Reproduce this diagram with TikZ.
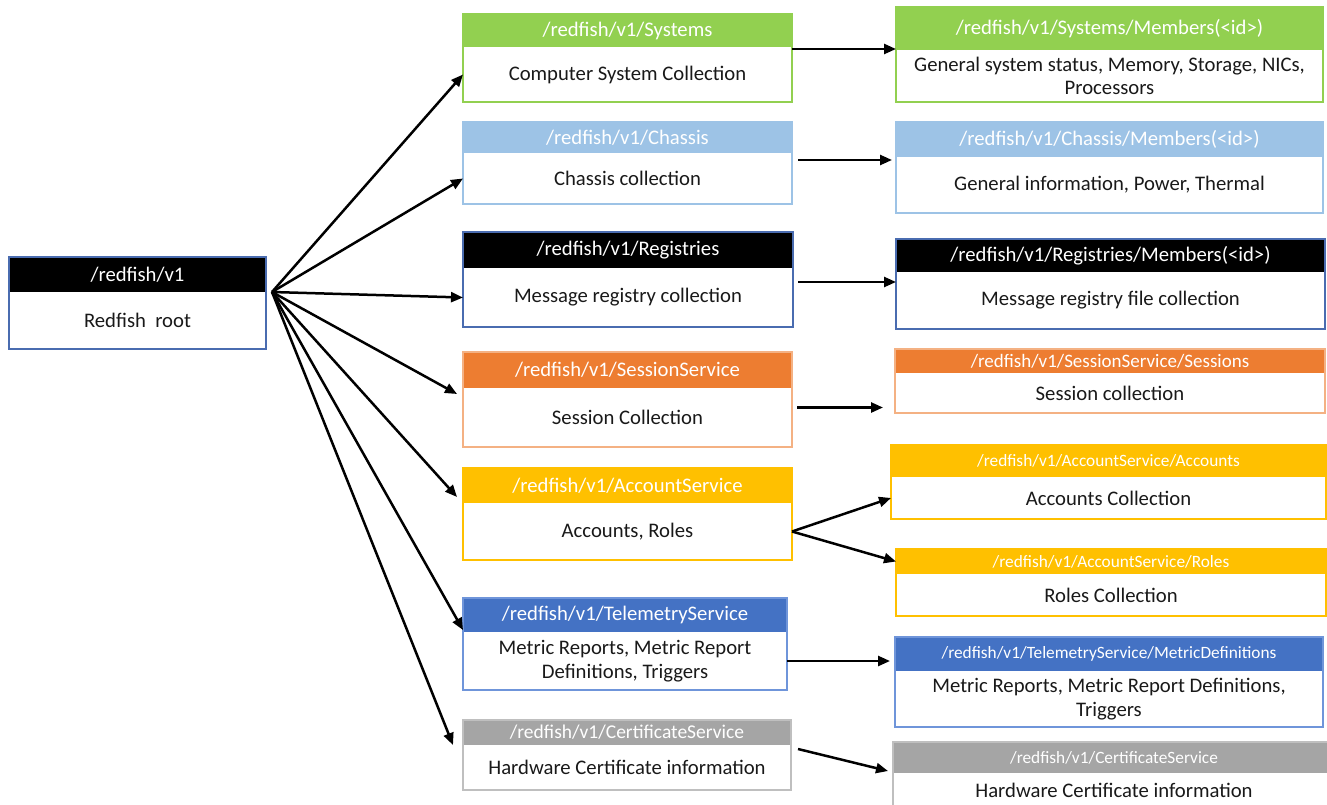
\documentclass[tikz,border=0pt]{standalone}
\usepackage{fontspec}
\setmainfont{Carlito}
\usetikzlibrary{arrows.meta,calc}
\definecolor{sysF}{HTML}{92D050}\definecolor{sysL}{HTML}{92D050}
\definecolor{chF}{HTML}{9DC3E6}\definecolor{chL}{HTML}{9DC3E6}
\definecolor{regF}{HTML}{000000}\definecolor{regL}{HTML}{4A6CB0}
\definecolor{sesF}{HTML}{ED7D31}\definecolor{sesL}{HTML}{F4B183}
\definecolor{accF}{HTML}{FFC000}\definecolor{accL}{HTML}{FFC000}
\definecolor{telF}{HTML}{4472C4}\definecolor{telL}{HTML}{6F95DA}
\definecolor{certF}{HTML}{A5A5A5}\definecolor{certL}{HTML}{BFBFBF}
\tikzset{
  boxframe/.style={draw, line width=1.4pt, inner sep=0pt, outer sep=0pt, anchor=north west},
  hdr/.style={inner sep=0pt, outer sep=0pt, anchor=north west, text=white, font=\fontsize{20.7}{23}\selectfont},
  bdy/.style={inner sep=0pt, outer sep=0pt, anchor=north west, align=center, text=black!90, font=\fontsize{20.7}{23.5}\selectfont},
  arr/.style={-{Triangle[length=12pt,width=10pt]}, line width=2.5pt, black},
}
\newcommand\rfbox[9]{%
  \pgfmathsetmacro\rfw{#3-#2}\pgfmathsetmacro\rfh{#6-#4}%
  \pgfmathsetmacro\rfhh{#5-#4}\pgfmathsetmacro\rfbh{#6-#5}%
  \node[hdr, fill=#7F, minimum width=\rfw pt, minimum height=\rfhh pt] (#1-h) at (#2,#4) {#8};
  \node[bdy, minimum width=\rfw pt, minimum height=\rfbh pt] (#1-b) at (#2,#5) {#9};
  \node[boxframe, draw=#7L, minimum width=\rfw pt, minimum height=\rfh pt] (#1) at (#2,#4) {};
}
\begin{document}
\begin{tikzpicture}[x=1pt,y=-1pt]
\useasboundingbox (0,0) rectangle (1327,805);
\clip (0,0) rectangle (1327,805);
% root
\rfbox{root}{9}{266}{257}{292}{349}{reg}{/redfish/v1}{Redfish~~root}
% middle column
\rfbox{sys}{463}{792}{14}{47}{102}{sys}{/redfish/v1/Systems}{Computer System Collection}
\rfbox{ch}{463}{792}{122}{153}{204}{ch}{/redfish/v1/Chassis}{Chassis collection}
\rfbox{reg}{463}{793}{232}{268}{327}{reg}{/redfish/v1/Registries}{Message registry collection}
\rfbox{ses}{463}{792}{352}{388}{447}{ses}{/redfish/v1/SessionService}{Session Collection}
\rfbox{acc}{463}{792}{468}{503}{560}{acc}{/redfish/v1/AccountService}{Accounts, Roles}
\rfbox{tel}{463}{787}{598}{632}{690}{tel}{/redfish/v1/TelemetryService}{Metric Reports, Metric Report\\Definitions, Triggers}
\rfbox{cert}{463}{791}{720}{745}{790}{cert}{{\fontsize{19.5}{21}\selectfont/redfish/v1/CertificateService}}{Hardware Certificate information}
% right column
\rfbox{sysm}{896}{1323}{7}{50}{102}{sys}{/redfish/v1/Systems/Members(<id>)}{General system status, Memory, Storage, NICs,\\Processors}
\rfbox{chm}{896}{1323}{122}{157}{213}{ch}{/redfish/v1/Chassis/Members(<id>)}{General information, Power, Thermal}
\rfbox{regm}{896}{1325}{239}{272}{329}{reg}{/redfish/v1/Registries/Members(<id>)}{Message registry file collection}
\rfbox{sessm}{895}{1325}{349}{373}{413}{ses}{{\fontsize{19}{20}\selectfont/redfish/v1/SessionService/Sessions}}{Session collection}
\rfbox{accm}{891}{1326}{445}{477}{519}{acc}{{\fontsize{17.3}{18}\selectfont/redfish/v1/AccountService/Accounts}}{Accounts Collection}
\rfbox{rolm}{896}{1326}{549}{574}{616}{acc}{{\fontsize{17.3}{18}\selectfont/redfish/v1/AccountService/Roles}}{Roles Collection}
\rfbox{metm}{895}{1323}{637}{671}{727}{tel}{{\fontsize{17.3}{18}\selectfont/redfish/v1/TelemetryService/MetricDefinitions}}{Metric Reports, Metric Report Definitions,\\Triggers}
\rfbox{certm}{893}{1335}{742}{773}{807}{cert}{{\fontsize{17.3}{18}\selectfont/redfish/v1/CertificateService}}{Hardware Certificate information}
% hub arrows
\coordinate (hub) at ([shift={(6pt,11pt)}]root.east);
\draw[arr] (hub) -- (sys-b.west);
\draw[arr] (hub) -- (ch-b.west);
\draw[arr] (hub) -- (reg-b.west);
\draw[arr] (hub) -- ([shift={(-6pt,-6pt)}]ses-b.north west);
\draw[arr] (hub) -- ([shift={(-6pt,6pt)}]acc-h.south west);
\draw[arr] (hub) -- ([shift={(0pt,2pt)}]tel-h.south west);
\draw[arr] (hub) -- ([shift={(-10pt,0pt)}]cert-h.south west);
% second level
\coordinate (s1) at ([yshift=-2pt]sys-h.south east);
\draw[arr] (s1) -- (s1 -| sysm.west);
\coordinate (c1) at ([shift={(6pt,-7pt)}]ch-h.south east);
\coordinate (c2) at (c1 -| chm.west);
\draw[arr] (c1) -- ([xshift=-4pt]c2);
\coordinate (r1) at ([shift={(5pt,-14pt)}]reg-h.south east);
\draw[arr] (r1) -- (r1 -| regm.west);
\coordinate (e1) at ([shift={(5pt,10pt)}]ses-b.east);
\coordinate (e2) at (e1 -| sessm.west);
\draw[arr] (e1) -- ([xshift=-12pt]e2);
\draw[arr] (acc-b.east) -- (accm-b.west);
\draw[arr] (acc-b.east) -- (rolm-h.west);
\coordinate (t2) at (tel-b.east -| metm.west);
\draw[arr] (tel-b.east) -- ([xshift=-5pt]t2);
\draw[arr] ([shift={(7pt,-4pt)}]cert-b.north east) -- ([shift={(-5pt,2pt)}]certm-h.south west);
\end{tikzpicture}
\end{document}
